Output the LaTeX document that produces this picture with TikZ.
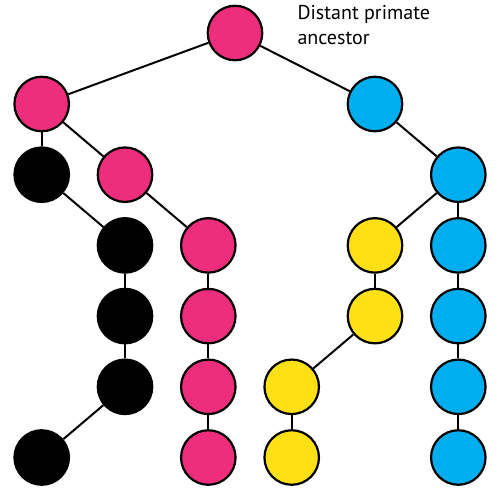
\documentclass[tikz,border=0pt]{standalone}
\usepackage{fontspec}
\setsansfont{PT Sans}
\usepackage{tikz}
\usetikzlibrary{positioning}
\definecolor{magentapink}{RGB}{238,46,124}
\definecolor{skyblue}{RGB}{0,174,239}
\definecolor{sunyellow}{RGB}{255,224,20}

\begin{document}
\begin{tikzpicture}[
  x=1pt, y=-1pt,
  font=\sffamily,
  dot/.style={circle, draw, line width=2.2pt, minimum size=54.5pt, inner sep=0pt},
  link/.style={line width=2pt},
  node distance=14pt
]
\useasboundingbox (0,0) rectangle (500,494);
% top of the tree
\node[dot, fill=magentapink] (r) at (235,33) {};
\node[dot, fill=magentapink] (m1) at (41.7,104) {};
\node[dot, fill=skyblue] (b1) at (375,104) {};
\node[anchor=base west, align=left, font=\sffamily\fontsize{20}{25}\selectfont] (lbl) at (294,45) {Distant primate\\ancestor};
% second row
\node[dot, fill=black, below=of m1] (k1) {};
\node[dot, fill=magentapink, below=of m1, xshift=83.3pt] (m2) {};
\node[dot, fill=skyblue, below=of b1, xshift=83.3pt] (b2) {};
% third row
\node[dot, fill=black, below=of m2] (k2) {};
\node[dot, fill=magentapink, below=of m2, xshift=83.3pt] (m3) {};
\node[dot, fill=sunyellow, below=of b2, xshift=-83.3pt] (y1) {};
\node[dot, fill=skyblue, below=of b2] (b3) {};
% fourth row
\node[dot, fill=black, below=of k2] (k3) {};
\node[dot, fill=magentapink, below=of m3] (m4) {};
\node[dot, fill=sunyellow, below=of y1] (y2) {};
\node[dot, fill=skyblue, below=of b3] (b4) {};
% fifth row
\node[dot, fill=black, below=of k3] (k4) {};
\node[dot, fill=magentapink, below=of m4] (m5) {};
\node[dot, fill=sunyellow, below=of y2, xshift=-83.3pt] (y3) {};
\node[dot, fill=skyblue, below=of b4] (b5) {};
% bottom row
\node[dot, fill=black, below=of k4, xshift=-83.3pt] (k5) {};
\node[dot, fill=magentapink, below=of m5] (m6) {};
\node[dot, fill=sunyellow, below=of y3] (y4) {};
\node[dot, fill=skyblue, below=of b5] (b6) {};
% branches
\draw[link] (r) -- (m1);
\draw[link] (r) -- (b1);
\draw[link] (m1) -- (k1);
\draw[link] (m1) -- (m2);
\draw[link] (k1) -- (k2);
\draw[link] (k2) -- (k3);
\draw[link] (k3) -- (k4);
\draw[link] (k4) -- (k5);
\draw[link] (m2) -- (m3);
\draw[link] (m3) -- (m4);
\draw[link] (m4) -- (m5);
\draw[link] (m5) -- (m6);
\draw[link] (b1) -- (b2);
\draw[link] (b2) -- (y1);
\draw[link] (b2) -- (b3);
\draw[link] (y1) -- (y2);
\draw[link] (y2) -- (y3);
\draw[link] (y3) -- (y4);
\draw[link] (b3) -- (b4);
\draw[link] (b4) -- (b5);
\draw[link] (b5) -- (b6);
\end{tikzpicture}
\end{document}
